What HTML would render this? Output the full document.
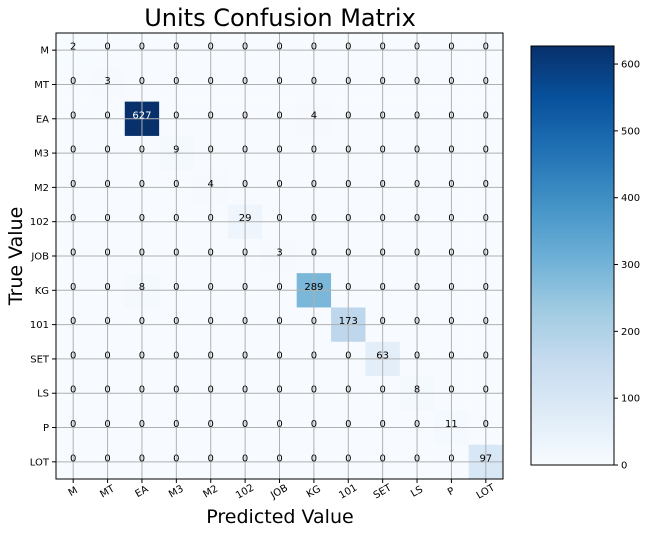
<!DOCTYPE html>
<html><head><meta charset="utf-8"><style>
body{margin:0;background:#fff;font-family:"DejaVu Sans","Liberation Sans",sans-serif}
svg text{font-family:"DejaVu Sans","Liberation Sans",sans-serif}
</style></head><body>
<svg id="c" width="647" height="534" xmlns="http://www.w3.org/2000/svg"></svg>
<script>
const labels=["M","MT","EA","M3","M2","102","JOB","KG","101","SET","LS","P","LOT"];
const diagValues=[2,3,627,9,4,29,3,289,173,63,8,11,97];
const offDiag=[[2,7,4],[7,2,8]]; // [row, col, value]
const cbTicks=[0,100,200,300,400,500,600];
const vmax=627;
const NS="http://www.w3.org/2000/svg";
const svg=document.getElementById('c');
const L=56,T=33,W=447,H=446,n=labels.length,cw=W/n,ch=H/n;
const xc=i=>L+cw*(i+0.5), yc=i=>T+ch*(i+0.5);
const stops=["#f7fbff","#deebf7","#c6dbef","#9ecae1","#6baed6","#4292c6","#2171b5","#08519c","#08306b"];
function hex(h){return [1,3,5].map(k=>parseInt(h.substr(k,2),16));}
function cmap(t){t=Math.max(0,Math.min(1,t));const p=t*8,i=Math.min(7,Math.floor(p)),f=p-i;const a=hex(stops[i]),b=hex(stops[i+1]);return `rgb(${a.map((v,k)=>Math.round(v+(b[k]-v)*f)).join(',')})`;}
function el(tag,attrs,parent){const e=document.createElementNS(NS,tag);for(const k in attrs)e.setAttribute(k,attrs[k]);(parent||svg).appendChild(e);return e;}
const M=labels.map(()=>labels.map(()=>0));
diagValues.forEach((v,i)=>M[i][i]=v);
offDiag.forEach(([r,c,v])=>M[r][c]=v);
for(let r=0;r<n;r++)for(let c=0;c<n;c++){
 const e=el('rect',{x:L+cw*c,y:T+ch*r,width:cw+0.3,height:ch+0.3,fill:cmap(M[r][c]/vmax)});
 
 
}
for(let i=0;i<n;i++){
 el('line',{x1:xc(i),x2:xc(i),y1:T,y2:T+H,stroke:'#b0b0b0','stroke-width':1});
 el('line',{x1:L,x2:L+W,y1:yc(i),y2:yc(i),stroke:'#b0b0b0','stroke-width':1});
}
for(let r=0;r<n;r++)for(let c=0;c<n;c++){
 const t=el('text',{x:xc(c),y:yc(r)-3,'text-anchor':'middle','dominant-baseline':'central','font-size':10,fill:M[r][c]>vmax/2?'#fff':'#000'});
 t.textContent=M[r][c];
 
 
}
el('rect',{x:L,y:T,width:W,height:H,fill:'none',stroke:'#000','stroke-width':1});
for(let i=0;i<n;i++){
 el('line',{x1:L-4,x2:L,y1:yc(i),y2:yc(i),stroke:'#000'});
 const ty=el('text',{x:L-7,y:yc(i)+3.5,'text-anchor':'end','font-size':10});
 ty.textContent=labels[i];
 
 
 el('line',{x1:xc(i),x2:xc(i),y1:T+H,y2:T+H+4,stroke:'#000'});
 const px=xc(i),py=T+H+13;
 const tx=el('text',{x:px,y:py,'text-anchor':'middle','dominant-baseline':'central','font-size':10,transform:`rotate(-30 ${px} ${py})`});
 tx.textContent=labels[i];
 
 
}
let t=el('text',{x:280,y:26,'text-anchor':'middle','font-size':24});t.textContent='Units Confusion Matrix';

t=el('text',{x:280,y:523,'text-anchor':'middle','font-size':19});t.textContent='Predicted Value';

t=el('text',{x:22,y:256,'text-anchor':'middle','font-size':19,transform:'rotate(-90 22 256)'});t.textContent='True Value';

const CX=531,CW=83,CT=46,CB=465;
const defs=el('defs',{});const g=el('linearGradient',{id:'gr',x1:0,y1:1,x2:0,y2:0},defs);
stops.forEach((s,i)=>el('stop',{offset:i/8,'stop-color':s},g));
const cb=el('rect',{x:CX,y:CT,width:CW,height:CB-CT,fill:'url(#gr)',stroke:'#000','stroke-width':1});

const cy=v=>CB-(CB-CT)*v/vmax;
cbTicks.forEach(v=>{
 el('line',{x1:CX+CW,x2:CX+CW+4,y1:cy(v),y2:cy(v),stroke:'#000'});
 const tt=el('text',{x:CX+CW+7,y:cy(v)+3.5,'font-size':10});tt.textContent=v;
 
 
});
</script>
</body></html>
